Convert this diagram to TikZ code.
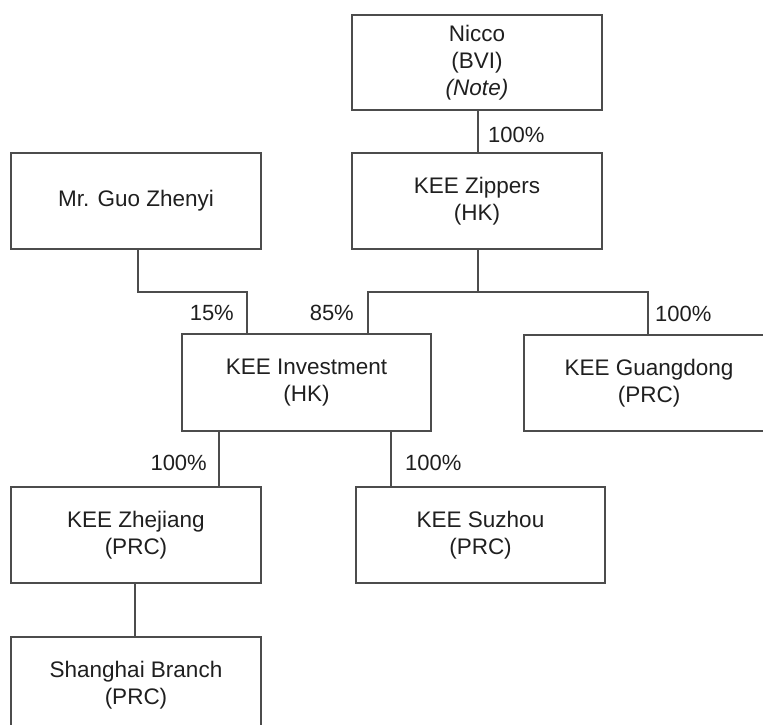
\documentclass[tikz,border=0pt]{standalone}
\usepackage{fontspec}
\setmainfont{Liberation Sans}
\begin{document}
\begin{tikzpicture}[x=1pt,y=-1pt,
  box/.style={draw=black!70,line width=1.2pt,minimum width=250pt,minimum height=96pt,
    inner sep=0pt,align=center,text=black!88,font=\fontsize{22.5}{27}\selectfont},
  link/.style={draw=black!70,line width=1.2pt},
  pct/.style={text=black!88,font=\fontsize{22}{26}\selectfont,inner sep=0pt}]
\useasboundingbox (0,0) rectangle (763,725);
\clip (0,0) rectangle (763,725);
\node[box,minimum height=95pt] (nicco) at (477,62.5) {Nicco\\(BVI)\\\textit{(Note)}};
\node[box] (zip) at (477,201) {KEE Zippers\\(HK)};
\node[box] (guo) at (136,201) {Mr. Guo Zhenyi};
\node[box,minimum width=249pt,minimum height=97pt] (inv) at (306.5,382.5) {KEE Investment\\(HK)};
\node[box] (gd) at (649,383) {KEE Guangdong\\(PRC)};
\node[box] (zj) at (136,535) {KEE Zhejiang\\(PRC)};
\node[box,minimum width=249pt] (sz) at (480.5,535) {KEE Suzhou\\(PRC)};
\node[box] (sh) at (136,685) {Shanghai Branch\\(PRC)};
% connectors
\coordinate (j1) at (478,292);
\draw[link] (nicco.south -| j1) -- (zip.north -| j1);
\draw[link] (zip.south -| j1) -- (j1);
\draw[link] (inv.north -| 368,0) -- (368,292) -- (648,292) -- (gd.north -| 648,0);
\draw[link] (guo.south -| 138,0) |- (247,292) -- (inv.north -| 247,0);
\draw[link] (inv.south -| 219,0) -- (zj.north -| 219,0);
\draw[link] (inv.south -| 391,0) -- (sz.north -| 391,0);
\draw[link] (zj.south -| 135,0) -- (sh.north -| 135,0);
% labels
\node[pct,anchor=base west] (p1) at (488,142) {100\%};
\node[pct,anchor=base east] (p2) at (234,320) {15\%};
\node[pct,anchor=base east] (p3) at (354,320) {85\%};
\node[pct,anchor=base west] (p4) at (655,321) {100\%};
\node[pct,anchor=base east] (p5) at (207,470) {100\%};
\node[pct,anchor=base west] (p6) at (405,470) {100\%};
\end{tikzpicture}
\end{document}
